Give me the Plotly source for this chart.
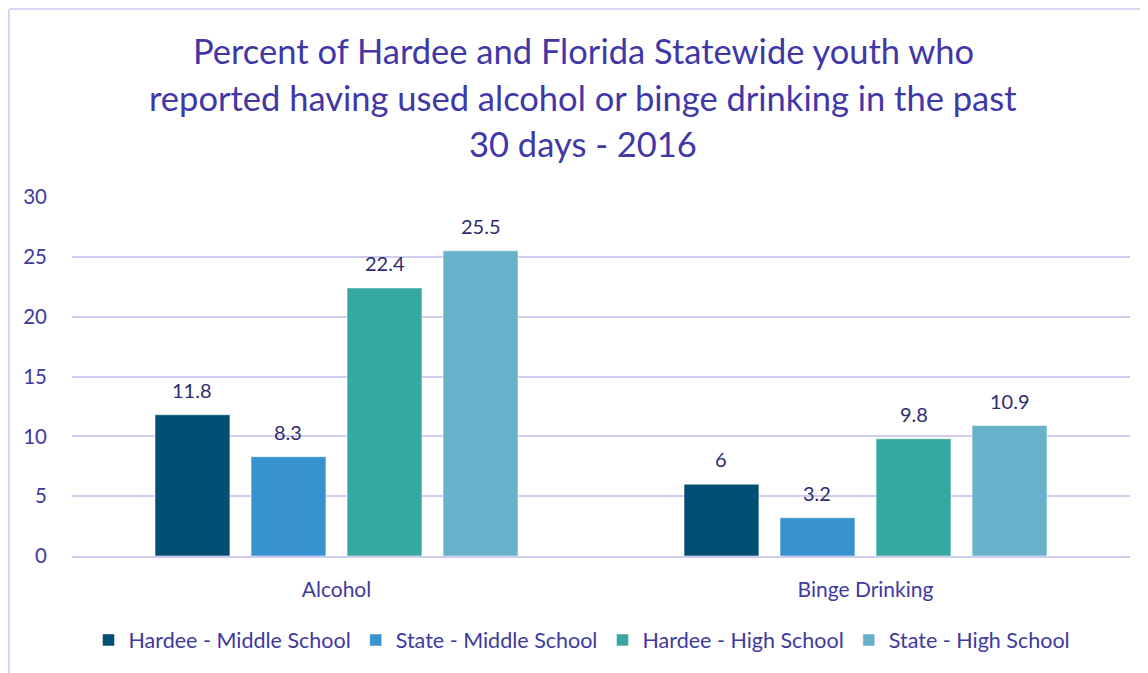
import plotly.graph_objects as go

categories = ["Alcohol", "Binge Drinking"]
series_names = ["Hardee - Middle School", "State - Middle School", "Hardee - High School", "State - High School"]
series_values = [
    [11.8, 6],
    [8.3, 3.2],
    [22.4, 9.8],
    [25.5, 10.9],
]
series_labels = [["11.8", "6"], ["8.3", "3.2"], ["22.4", "9.8"], ["25.5", "10.9"]]
colors = ["#034F73", "#3793CE", "#35A9A1", "#67B1CA"]
title_lines = [
    "Percent of Hardee and Florida Statewide youth who",
    "reported having used alcohol or binge drinking in the past",
    "30 days - 2016",
]
y_ticks = [0, 5, 10, 15, 20, 25, 30]

FONT = "Lato"
W, H = 1148, 673
OFF = 8  # page body margin
ML, MR, MT, MB = 72 - OFF, W - 1130 + OFF, 197 - OFF, H - 556 + OFF
BARGAP = 0.274
GROUPGAP = 0.22
plot_w = W - ML - MR
plot_h = H - MT - MB


def py(screen_y):
    return (H - MB - (screen_y - OFF)) / plot_h


def px(screen_x):
    return (screen_x - OFF - ML) / plot_w


fig = go.Figure()
for name, vals, col in zip(series_names, series_values, colors):
    fig.add_trace(go.Bar(
        x=categories, y=vals, name=name,
        marker=dict(color=col, line=dict(width=1, color="rgba(255,255,255,0.5)")),
    ))

slot = plot_w / len(categories) * (1 - BARGAP) / len(series_names)
annotations = []
for i, (vals, labs) in enumerate(zip(series_values, series_labels)):
    for cat, v, lab in zip(categories, vals, labs):
        annotations.append(dict(
            x=cat, y=v, xref="x", yref="y", text=lab, showarrow=False,
            xshift=(i - 1.5) * slot, yshift=11, yanchor="bottom",
            font=dict(family=FONT, size=20, color="#2E2B72"),
        ))

title_y = [50, 97, 143]
for line, yp in zip(title_lines, title_y):
    annotations.append(dict(
        x=px(583), xref="paper", y=py(yp), yref="paper",
        xanchor="center", yanchor="middle", text=line, showarrow=False,
        font=dict(family=FONT, size=34.5, color="#4137A6"),
    ))

fig.update_layout(
    width=W, height=H,
    margin=dict(l=ML, r=MR, t=MT, b=MB),
    paper_bgcolor="white", plot_bgcolor="white",
    barmode="group", bargap=BARGAP, bargroupgap=GROUPGAP,
    font=dict(family=FONT, color="#3E399E"),
    showlegend=True,
    legend=dict(
        orientation="h", x=px(582), xanchor="center", y=py(640), yanchor="middle",
        font=dict(family=FONT, size=21.5, color="#3E399E"),
        itemwidth=30, traceorder="normal",
    ),
    annotations=annotations,
    shapes=[
        dict(type="line", xref="paper", yref="paper",
             x0=px(OFF + 1), x1=px(W + 20),
             y0=py(OFF + 1), y1=py(OFF + 1),
             line=dict(color="#D9D5F0", width=2)),
        dict(type="line", xref="paper", yref="paper",
             x0=px(OFF + 1), x1=px(OFF + 1),
             y0=py(OFF + 1), y1=py(H + 20),
             line=dict(color="#D9D5F0", width=2)),
    ],
)
fig.update_xaxes(
    showgrid=False, showline=True, linecolor="#D0CCEE", linewidth=2,
    ticks="", tickfont=dict(family=FONT, size=21, color="#3E399E"),
    ticklabelstandoff=14,
)
fig.update_yaxes(
    range=[0, 30], tickvals=y_ticks, showgrid=True, gridcolor="#D0CCEE", gridwidth=2,
    zeroline=False, showline=False, ticks="",
    tickfont=dict(family=FONT, size=20.5, color="#3E399E"),
    ticklabelstandoff=24,
)

fig.write_html("out.html")
